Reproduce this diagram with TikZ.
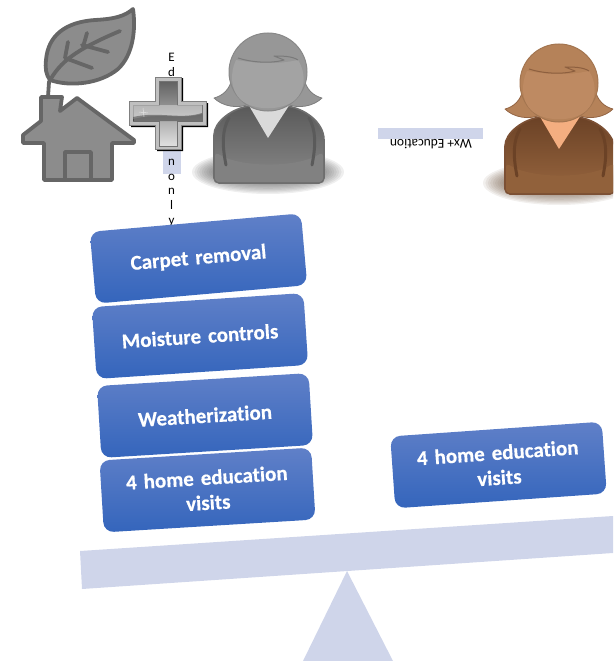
\documentclass[tikz,border=0pt]{standalone}
\usepackage{fontspec}
\setmainfont[Ligatures=NoCommon,BoldFeatures={FakeBold=0.4}]{Carlito}
\usetikzlibrary{shadings}
\definecolor{barblue}{HTML}{CFD5EA}
\definecolor{boxtop}{HTML}{6080C8}
\definecolor{boxmid}{HTML}{4472C6}
\definecolor{boxbot}{HTML}{3465BC}
\definecolor{iconfill}{HTML}{8C8C8C}
\definecolor{iconline}{HTML}{666666}
\definecolor{gHair}{HTML}{979797}
\definecolor{gFace}{HTML}{A3A3A3}
\definecolor{gEdge}{HTML}{6E6E6E}
\definecolor{gDark}{HTML}{5A5A5A}
\definecolor{gMid}{HTML}{888888}
\definecolor{gNeck}{HTML}{DADADA}
\definecolor{gShadow}{HTML}{505050}
\definecolor{bHair}{HTML}{B58259}
\definecolor{bFace}{HTML}{BE8A62}
\definecolor{bEdge}{HTML}{7C5034}
\definecolor{bDark}{HTML}{6B4226}
\definecolor{bMid}{HTML}{98663F}
\definecolor{bNeck}{HTML}{F4AE80}
\definecolor{bShadow}{HTML}{6E5540}
\tikzset{
  x=1pt,y=-1pt,
  taskbox/.style={rounded corners=10pt,minimum width=212pt,minimum height=72pt,inner sep=4pt,
    top color=boxtop,middle color=boxmid,bottom color=boxbot,draw=none,
    text=white,font=\fontsize{21}{25}\selectfont\bfseries,align=center,text width=204pt},
  bar/.style={fill=barblue,draw=none},
  iconshape/.style={fill=iconfill,draw=iconline,line width=3.8pt,line join=round},
  vein/.style={draw=iconline,line width=3.8pt,line cap=round,line join=round},
  plain/.style={text=black,inner sep=0pt}
}
\newcommand{\drawperson}[3]{%
\begin{scope}[shift={(#2,#3)}]
  \foreach \rr in {0,...,11}{
    \fill[#1Shadow,opacity=.09] (268,172) ellipse [x radius={76-2.4*\rr},y radius={22-1.3*\rr}];
  }
  % hair flicks
  \path[fill=#1Hair,draw=#1Edge!60!#1Hair,line width=.8pt,line join=round]
    (232,78) .. controls (230,90) and (222,96) .. (214,98)
    .. controls (222,106) and (238,110) .. (252,103) -- (284,103)
    .. controls (298,110) and (314,106) .. (322,98)
    .. controls (314,96) and (306,90) .. (304,78) -- cycle;
  % body
  \path[top color=#1Dark,bottom color=#1Mid,draw=#1Edge,line width=1.6pt,rounded corners=5pt]
    (214,183) -- (214,140) [sharp corners] .. controls (214,122) and (232,108) .. (250,106)
    -- (286,106) .. controls (304,108) and (324,122) .. (324,140) [rounded corners=5pt] -- (324,183) -- cycle;
  \path[fill=#1Mid!85!#1Dark,draw=none,rounded corners=4pt]
    (215,152) .. controls (240,168) and (298,168) .. (323,152) -- (323,182) -- (215,182) -- cycle;
  \path[draw=#1Dark,line width=3pt,line cap=round]
    (229,118) .. controls (222,130) and (222,145) .. (226,165)
    (309,118) .. controls (316,130) and (316,145) .. (312,165);
  % neck
  \path[fill=#1Neck,draw=none] (248,104) -- (290,104) -- (268,138) -- cycle;
  % head
  \path[fill=#1Hair,draw=#1Hair!90!black,line width=1pt] (268,72) circle [radius=39];
  \path[fill=#1Face,draw=none] (236,60) .. controls (250,62) and (270,66) .. (298,60)
     .. controls (306,72) and (306,90) .. (295,100)
     .. controls (282,111) and (254,111) .. (241,100)
     .. controls (230,90) and (230,72) .. (236,60) -- cycle;
  \path[draw=#1Edge!70!#1Hair,line width=1pt,line join=round]
    (238,58) .. controls (250,62) and (270,64) .. (284,60) -- (274,56) .. controls (282,56) and (292,56) .. (298,60);
\end{scope}}
\begin{document}
\begin{tikzpicture}
\useasboundingbox (0,0) rectangle (613,661);
\clip (0,0) rectangle (613,661);
% vertical label behind the plus
\path[bar] (163,100) rectangle (181,174);
\node[plain,align=center,anchor=north,font=\fontsize{13}{14.7}\selectfont] (edulabel) at (171.5,53) {%
  E\\d\\[-2.3pt]u\\[-2.3pt]c\\[-2.3pt]a\\[-2.3pt]t\\[-2.3pt]i\\[-2.3pt]o\\n\\o\\n\\l\\y};
% leaf and house icon
\path[iconshape] (46,60) .. controls (48,35) and (66,22) .. (95,20)
   .. controls (115,19) and (125,16) .. (133,9)
   .. controls (136,30) and (133,55) .. (118,69)
   .. controls (100,84) and (70,87) .. (50,80)
   .. controls (46,75) and (45,68) .. (46,60) -- cycle;
\path[vein] (48,97) -- (49,82) .. controls (60,62) and (75,50) .. (120,31);
\path[vein] (68,42) -- (65,58) (87,33) -- (83,47) (108,52) -- (82,45) (92,68) -- (65,58);
\path[iconshape] (41,97) -- (62,97) -- (60,111) -- (77,98) -- (134,140) -- (134,143) -- (112,143)
   -- (112,180) -- (44,180) -- (44,143) -- (23,143) -- (23,135) -- (41,121) -- cycle;
\path[iconshape] (65,152) rectangle (91,180);
% plus
\path[fill=black] (157,78) -- (183,78) -- (183,103) -- (208,103) -- (208,127) -- (183,127) -- (183,151) -- (157,151) -- (157,127) -- (131,127) -- (131,103) -- (157,103) -- cycle;
\path[fill=lightgray,draw=gray,line width=.8pt] (155,77) -- (181,77) -- (181,101) -- (206,101) -- (206,125) -- (181,125) -- (181,149) -- (155,149) -- (155,125) -- (129,125) -- (129,101) -- (155,101) -- cycle;
\path[top color=black!62,bottom color=black!12,draw=black!55,line width=.6pt] (159,81) -- (177,81) -- (177,105) -- (202,105) -- (202,121) -- (177,121) -- (177,146) -- (159,146) -- (159,121) -- (133,121) -- (133,105) -- (159,105) -- cycle;
\path[fill=white,opacity=.35] (133,105) -- (202,105) -- (202,114) .. controls (180,120) and (160,112) .. (133,119) -- cycle;
\path[fill=black,opacity=.35] (133,117) .. controls (160,111) and (180,120) .. (202,113) -- (202,121) -- (133,121) -- cycle;
\draw[white,opacity=.6,line width=.5pt] (139,112) -- (148,113) (143,108) -- (144,117);
% persons
\drawperson{g}{0}{0}
\drawperson{b}{291}{11}
% upside-down label
\path[bar] (378,128) rectangle (483,139);
\node[plain,rotate=180,font=\fontsize{13.5}{15}\selectfont] (wxlabel) at (431,144) {Wx+ Education};
% task boxes
\node[taskbox,rotate=5] (carpet) at (198.5,258.5) {Carpet removal};
\node[taskbox,rotate=3.8] (moisture) at (200,336) {Moisture controls};
\node[taskbox,rotate=3.5] (weather) at (205,415.5) {Weatherization};
\node[taskbox,rotate=3.5] (visitsa) at (207.5,490) {4 home education\\visits};
\node[taskbox,rotate=4] (visitsb) at (498.5,465) {4 home education\\visits};
% seesaw
\path[bar] (80,551) -- (613,516) -- (613,553) -- (82,589) -- cycle;
\path[bar] (347,571) -- (393,661) -- (303,661) -- cycle;
\end{tikzpicture}
\end{document}
